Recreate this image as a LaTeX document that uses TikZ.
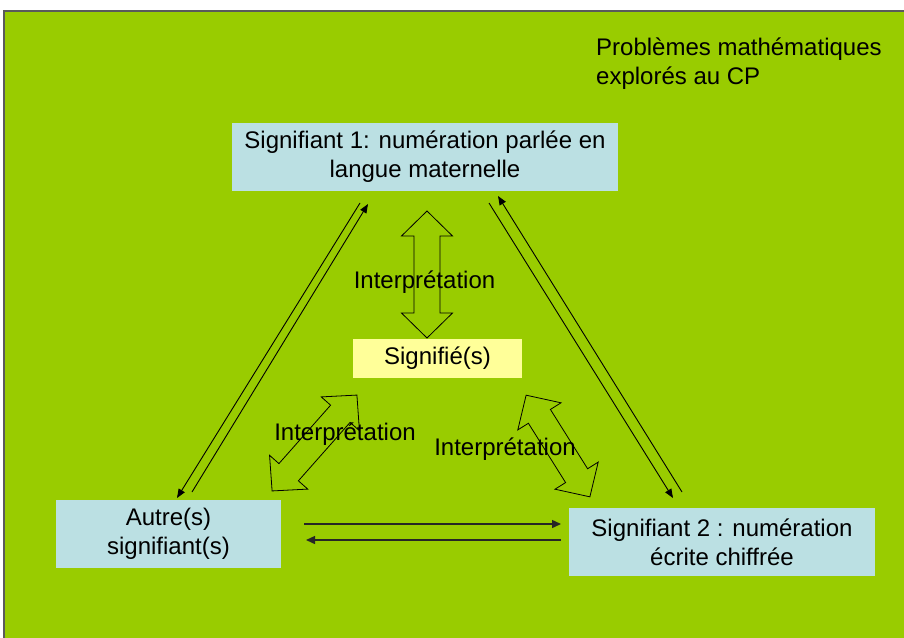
\documentclass[tikz,border=0pt]{standalone}
\usepackage{fontspec}
\setmainfont{Liberation Sans}
\usetikzlibrary{arrows.meta}
\definecolor{bggreen}{HTML}{99CC00}
\definecolor{boxblue}{HTML}{BBE0E3}
\definecolor{boxyellow}{HTML}{FFFF99}
\definecolor{framegray}{HTML}{5A5A5A}
\tikzset{
  txt/.style={font=\fontsize{24}{29}\selectfont, inner sep=0pt, align=center},
  bluebox/.style={txt, fill=boxblue, minimum height=68pt},
  yellowbox/.style={txt, fill=boxyellow, minimum height=39pt, minimum width=169pt},
  thinarrow/.style={line width=0.9pt, -{Triangle[length=9pt,width=7pt]}},
  thickarrow/.style={line width=1.4pt, draw=black!85, -{Triangle[length=9pt,width=8pt]}},
  blockarrow/.style={draw=black, line width=0.8pt, line join=miter}
}
\newcommand{\dblarrow}[4]{% center x, center y, angle, length
  \begin{scope}[shift={(#1,#2)}, rotate=#3]
    \pgfmathsetmacro{\ha}{#4/2}
    \pgfmathsetmacro{\hb}{#4/2-25}
    \draw[blockarrow] (\ha,0) -- (\hb,25.5) -- (\hb,13) -- (-\hb,13) -- (-\hb,25.5)
      -- (-\ha,0) -- (-\hb,-25.5) -- (-\hb,-13) -- (\hb,-13) -- (\hb,-25.5) -- cycle;
  \end{scope}}
\begin{document}
\begin{tikzpicture}[x=1pt,y=-1pt]
\useasboundingbox (0,0) rectangle (904,637);
\fill[white] (0,0) rectangle (904,637);
\filldraw[fill=bggreen, draw=framegray, line width=1.2pt] (4,11) rectangle (912,650);

% boxes
\node[bluebox, minimum width=386pt] (s1) at (425,157) {Signifiant 1: numération parlée en\\langue maternelle};
\node[bluebox, minimum width=225pt] (autre) at (168.5,534) {Autre(s)\\signifiant(s)};
\node[bluebox, minimum width=306pt] (s2) at (722,542) {Signifiant 2 : numération\\écrite chiffrée};
\node[yellowbox] (sig) at (437.5,358.5) {Signifié(s)};

% title
\node[txt, align=left, anchor=north west] (title) at (596,37.5) {Problèmes mathématiques\\explorés au CP};

% block double arrows
\dblarrow{427}{274.5}{90}{127}
\dblarrow{314.5}{443}{48.5}{128}
\dblarrow{558}{446}{-57.9}{120}

% labels
\node[txt, anchor=base] (i1) at (424.5,288) {Interprétation};
\node[txt, anchor=base] (i2) at (345,440) {Interprétation};
\node[txt, anchor=base] (i3) at (505,455) {Interprétation};

% thin arrows
\coordinate (l1a) at (360,203); \coordinate (l1b) at (177,498);
\coordinate (l2a) at (192,492); \coordinate (l2b) at (368,204);
\coordinate (r1a) at (489,203); \coordinate (r1b) at (673,498);
\coordinate (r2a) at (682,492); \coordinate (r2b) at (498,196);
\coordinate (h1a) at (304,524); \coordinate (h1b) at (561,524);
\coordinate (h2a) at (561,540); \coordinate (h2b) at (306,540);
\draw[thinarrow] (l1a) -- (l1b);
\draw[thinarrow] (l2a) -- (l2b);
\draw[thinarrow] (r1a) -- (r1b);
\draw[thinarrow] (r2a) -- (r2b);
\draw[thickarrow] (h1a) -- (h1b);
\draw[thickarrow] (h2a) -- (h2b);
\end{tikzpicture}
\end{document}
